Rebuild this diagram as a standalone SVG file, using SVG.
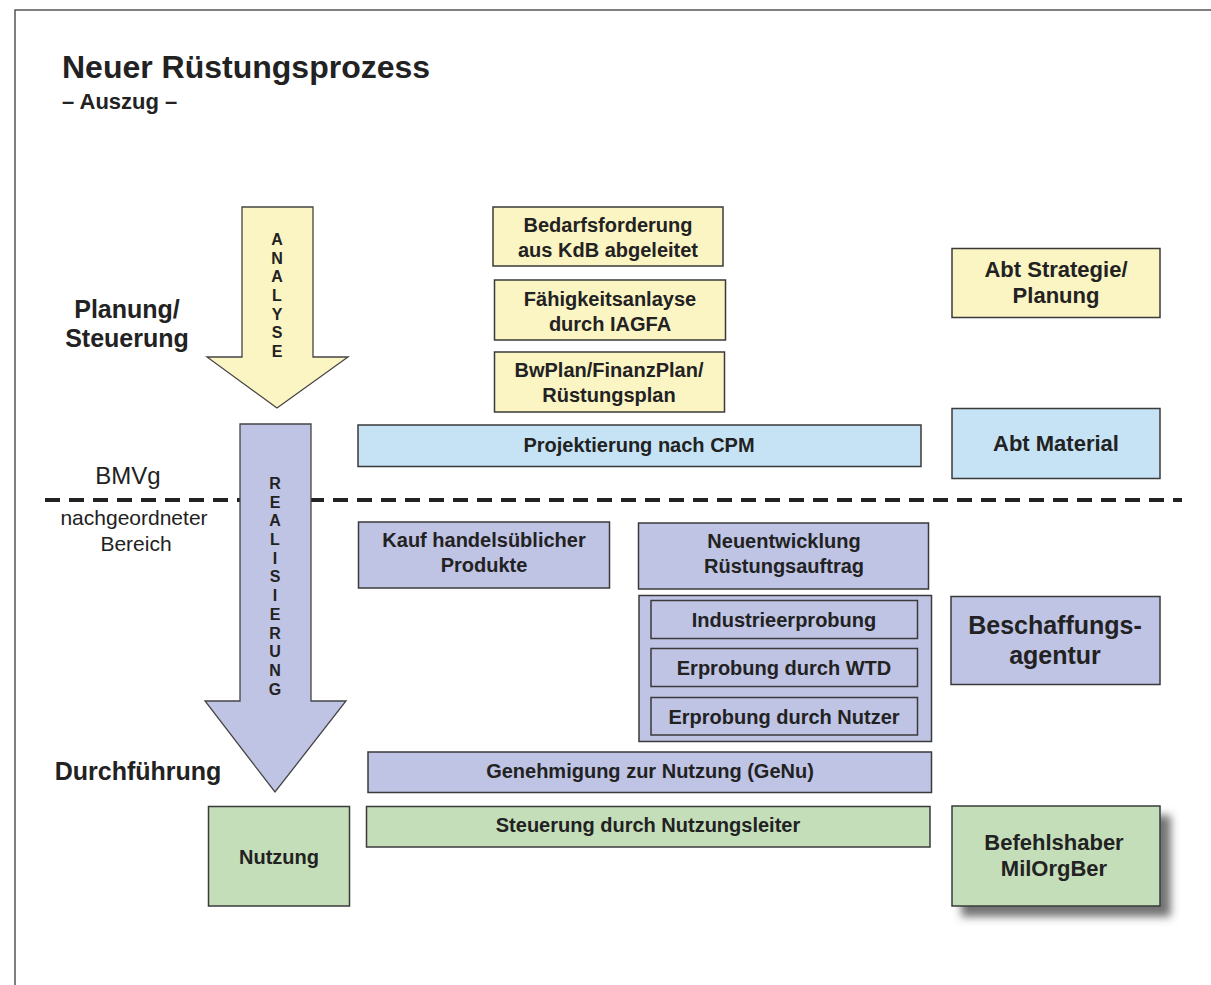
<svg xmlns="http://www.w3.org/2000/svg" width="1211" height="985" viewBox="0 0 1211 985">
<defs>
<style>
.t{font-family:"Liberation Sans",Arial,sans-serif;font-weight:bold;fill:#222;text-anchor:middle;font-size:20px}
.r{font-family:"Liberation Sans",Arial,sans-serif;fill:#222;text-anchor:middle}
.y{fill:#fbf4c3;stroke:#3a3a3a;stroke-width:1.5}
.b{fill:#c6e2f5;stroke:#3a3a3a;stroke-width:1.5}
.l{fill:#bfc3e4;stroke:#3a3a3a;stroke-width:1.5}
.g{fill:#c5deba;stroke:#3a3a3a;stroke-width:1.5}
.al{font-family:"Liberation Sans",Arial,sans-serif;font-weight:bold;fill:#222;text-anchor:middle;font-size:16px}
</style>
<filter id="sh" x="-10%" y="-10%" width="130%" height="140%">
<feDropShadow dx="10" dy="10" stdDeviation="4" flood-color="#444" flood-opacity="0.75"/>
</filter>
</defs>
<rect width="1211" height="985" fill="#fff"/>
<path d="M15 985 V10 H1211" fill="none" stroke="#555" stroke-width="1.5"/>

<g id="title">
<text class="t" x="62" y="78" style="text-anchor:start;font-size:32px">Neuer Rüstungsprozess</text>
<text class="t" x="62" y="109" style="text-anchor:start;font-size:22px">– Auszug –</text>
</g>

<g id="labels">
<text class="t" x="127" y="318" style="font-size:25px">Planung/</text>
<text class="t" x="127" y="347" style="font-size:25px">Steuerung</text>
<text class="t" x="138" y="780" style="font-size:25px">Durchführung</text>
<text class="r" x="128" y="484" style="font-size:24px">BMVg</text>
<text class="r" x="134" y="525" style="font-size:21px">nachgeordneter</text>
<text class="r" x="136" y="551" style="font-size:21px">Bereich</text>
</g>

<g id="connectors">
<line x1="45" y1="500" x2="1182" y2="500" stroke="#222" stroke-width="4" stroke-dasharray="15 9"/>
</g>

<g id="arrow-analyse">
<polygon points="242,207 313,207 313,357 348,357 277,408 207,357 242,357" fill="#fbf4c3" stroke="#444" stroke-width="1.3"/>
<text class="al" x="277" y="245">A</text>
<text class="al" x="277" y="264">N</text>
<text class="al" x="277" y="282">A</text>
<text class="al" x="277" y="301">L</text>
<text class="al" x="277" y="320">Y</text>
<text class="al" x="277" y="338">S</text>
<text class="al" x="277" y="357">E</text>
</g>

<g id="arrow-realisierung">
<polygon points="240,424 311,424 311,701 346,701 275,792 205,701 240,701" fill="#bfc3e4" stroke="#444" stroke-width="1.3"/>
<text class="al" x="275" y="489">R</text>
<text class="al" x="275" y="508">E</text>
<text class="al" x="275" y="526">A</text>
<text class="al" x="275" y="545">L</text>
<text class="al" x="275" y="564">I</text>
<text class="al" x="275" y="582">S</text>
<text class="al" x="275" y="601">I</text>
<text class="al" x="275" y="620">E</text>
<text class="al" x="275" y="639">R</text>
<text class="al" x="275" y="657">U</text>
<text class="al" x="275" y="676">N</text>
<text class="al" x="275" y="695">G</text>
</g>

<g id="bedarf">
<rect class="y" x="493" y="207" width="230" height="59"/>
<text class="t" x="608" y="232">Bedarfsforderung</text>
<text class="t" x="608" y="257">aus KdB abgeleitet</text>
</g>
<g id="faehigkeit">
<rect class="y" x="494.5" y="280" width="231" height="60"/>
<text class="t" x="610" y="306">Fähigkeitsanlayse</text>
<text class="t" x="610" y="331">durch IAGFA</text>
</g>
<g id="bwplan">
<rect class="y" x="494.5" y="352" width="230" height="60"/>
<text class="t" x="609" y="377">BwPlan/FinanzPlan/</text>
<text class="t" x="609" y="402">Rüstungsplan</text>
</g>
<g id="abt-strategie">
<rect class="y" x="952" y="248.5" width="208" height="69"/>
<text class="t" x="1056" y="277" style="font-size:22px">Abt Strategie/</text>
<text class="t" x="1056" y="303" style="font-size:22px">Planung</text>
</g>

<g id="projektierung">
<rect class="b" x="358" y="425" width="563" height="41.5"/>
<text class="t" x="639" y="452">Projektierung nach CPM</text>
</g>
<g id="abt-material">
<rect class="b" x="952" y="408.5" width="208" height="70"/>
<text class="t" x="1056" y="451" style="font-size:22px">Abt Material</text>
</g>

<g id="kauf">
<rect class="l" x="358.5" y="522" width="251" height="66"/>
<text class="t" x="484" y="547">Kauf handelsüblicher</text>
<text class="t" x="484" y="572">Produkte</text>
</g>
<g id="neuentwicklung">
<rect class="l" x="638.5" y="523" width="290" height="66"/>
<text class="t" x="784" y="548">Neuentwicklung</text>
<text class="t" x="784" y="573">Rüstungsauftrag</text>
</g>
<g id="erprobung">
<rect class="l" x="639" y="595.5" width="292.5" height="146"/>
<g id="industrieerprobung">
<rect class="l" x="651" y="600.5" width="266.5" height="38"/>
<text class="t" x="784" y="627">Industrieerprobung</text>
</g>
<g id="erprobung-wtd">
<rect class="l" x="651" y="648.5" width="266.5" height="38"/>
<text class="t" x="784" y="675">Erprobung durch WTD</text>
</g>
<g id="erprobung-nutzer">
<rect class="l" x="651" y="697.5" width="266.5" height="37.5"/>
<text class="t" x="784" y="724">Erprobung durch Nutzer</text>
</g>
</g>
<g id="beschaffungsagentur">
<rect class="l" x="951" y="596.5" width="209" height="88"/>
<text class="t" x="1055" y="634" style="font-size:25px">Beschaffungs-</text>
<text class="t" x="1055" y="664" style="font-size:25px">agentur</text>
</g>

<g id="genehmigung">
<rect class="l" x="368" y="752" width="563.5" height="40.5"/>
<text class="t" x="650" y="778">Genehmigung zur Nutzung (GeNu)</text>
</g>
<g id="steuerung">
<rect class="g" x="366.5" y="806.5" width="563.5" height="40.5"/>
<text class="t" x="648" y="832">Steuerung durch Nutzungsleiter</text>
</g>
<g id="nutzung">
<rect class="g" x="208.5" y="806.5" width="141" height="99.5"/>
<text class="t" x="279" y="864">Nutzung</text>
</g>
<g id="befehlshaber">
<rect class="g" x="952" y="806" width="208" height="100" filter="url(#sh)"/>
<text class="t" x="1054" y="850" style="font-size:22px">Befehlshaber</text>
<text class="t" x="1054" y="876" style="font-size:22px">MilOrgBer</text>
</g>
</svg>
